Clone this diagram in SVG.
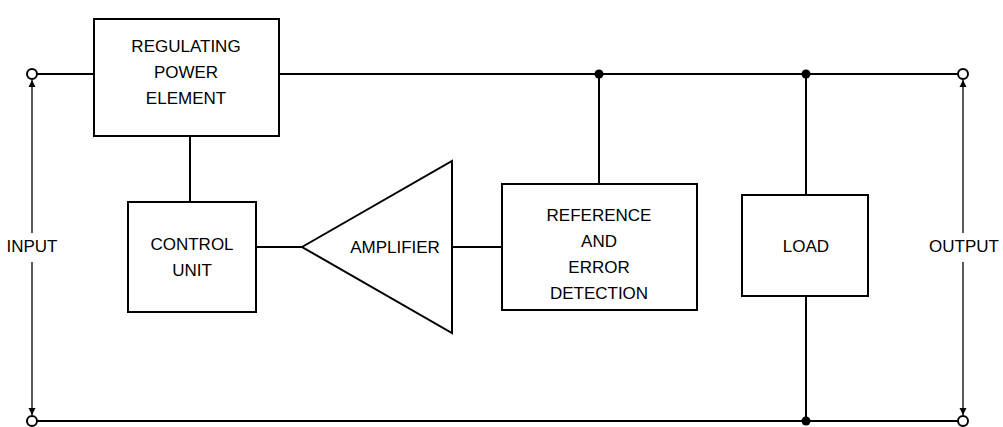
<svg xmlns="http://www.w3.org/2000/svg" width="1003" height="427" viewBox="0 0 1003 427">
<style>
.w{stroke:#000;stroke-width:2;fill:none}
.b{stroke:#000;stroke-width:2;fill:#fff}
.t{font-family:"Liberation Sans",Arial,sans-serif;font-size:17px;fill:#000;text-anchor:middle}
.a{stroke:#000;stroke-width:1.3;fill:none}
</style>
<defs>
<marker id="ah" viewBox="0 0 10 10" refX="10" refY="5" markerWidth="7" markerHeight="9" markerUnits="userSpaceOnUse" orient="auto">
<path d="M0,0 L10,5 L0,10 z" fill="#000"/>
</marker>
</defs>
<g id="connectors">
<path class="w" d="M37,74 H958"/>
<path class="w" d="M37,421 H958"/>
<path class="w" d="M190,136 V202"/>
<path class="w" d="M256,247 H302"/>
<path class="w" d="M452,247 H502"/>
<path class="w" d="M599,74 V184"/>
<path class="w" d="M806,74 V195"/>
<path class="w" d="M806,296 V421"/>
<circle cx="599" cy="74" r="4.5" fill="#000"/>
<circle cx="806" cy="74" r="4.5" fill="#000"/>
<circle cx="806" cy="421" r="4.5" fill="#000"/>
<path class="a" d="M32,233 V80" marker-end="url(#ah)"/>
<path class="a" d="M32,262 V415" marker-end="url(#ah)"/>
<path class="a" d="M963,233 V80" marker-end="url(#ah)"/>
<path class="a" d="M963,262 V415" marker-end="url(#ah)"/>
</g>
<g id="terminals">
<circle class="b" cx="32" cy="74" r="5"/>
<circle class="b" cx="32" cy="421" r="5"/>
<circle class="b" cx="963" cy="74" r="5"/>
<circle class="b" cx="963" cy="421" r="5"/>
</g>
<g id="input-label"><text class="t" x="32" y="252">INPUT</text></g>
<g id="output-label"><text class="t" x="964" y="252">OUTPUT</text></g>
<g id="regulating">
<rect class="b" x="94" y="19" width="185" height="117"/>
<text class="t" x="186" y="52">REGULATING</text>
<text class="t" x="186" y="78">POWER</text>
<text class="t" x="186" y="104">ELEMENT</text>
</g>
<g id="control">
<rect class="b" x="128" y="202" width="128" height="110"/>
<text class="t" x="192" y="250">CONTROL</text>
<text class="t" x="192" y="276">UNIT</text>
</g>
<g id="amplifier">
<path class="b" d="M302,247 L452,161 L452,333 Z"/>
<text class="t" x="395" y="253">AMPLIFIER</text>
</g>
<g id="reference">
<rect class="b" x="502" y="184" width="195" height="126"/>
<text class="t" x="599" y="221">REFERENCE</text>
<text class="t" x="599" y="247">AND</text>
<text class="t" x="599" y="273">ERROR</text>
<text class="t" x="599" y="299">DETECTION</text>
</g>
<g id="load">
<rect class="b" x="742" y="195" width="126" height="101"/>
<text class="t" x="806" y="252">LOAD</text>
</g>
</svg>
